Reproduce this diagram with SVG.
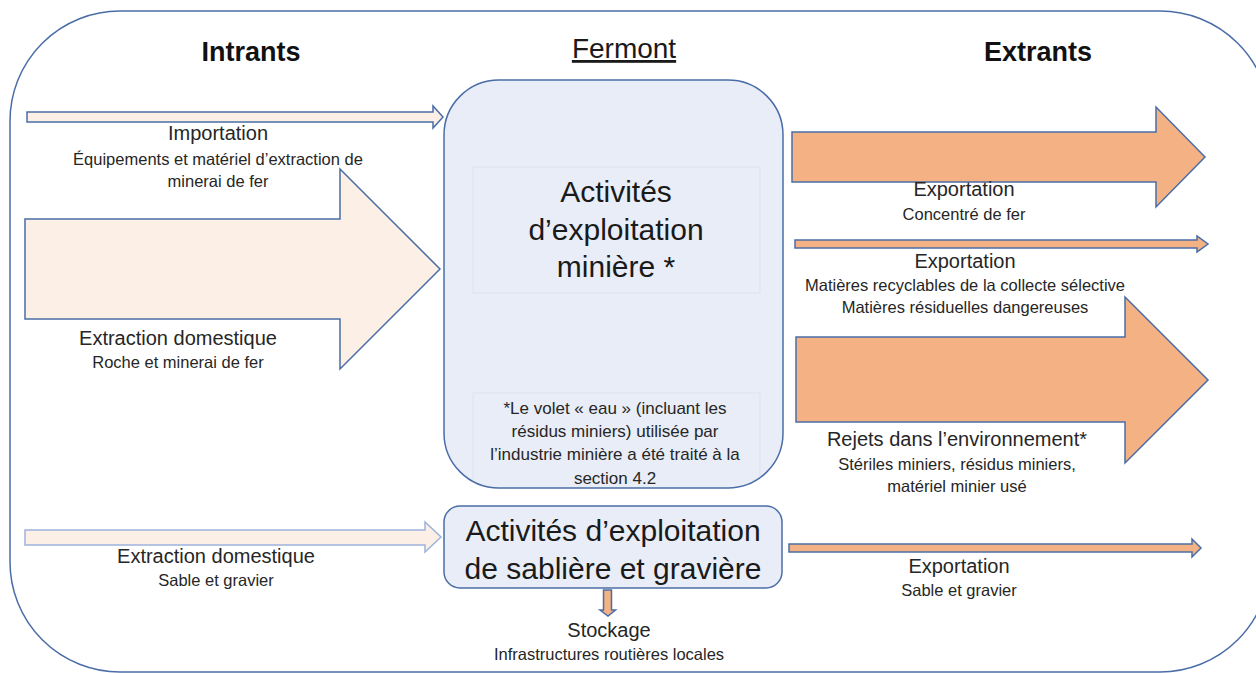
<svg xmlns="http://www.w3.org/2000/svg" width="1256" height="673" viewBox="0 0 1256 673">
<style>
text{font-family:"Liberation Sans",Arial,sans-serif;fill:#262626;text-anchor:middle}
.hd{font-size:27px;font-weight:bold;fill:#111}
.t{font-size:20px}
.s{font-size:16.5px}
.fn{font-size:17px}
.big{font-size:30px;fill:#1a1a1a}
.in{fill:#FCEFE6;stroke:#4A6DA7;stroke-width:1.5}
.in2{fill:#FCEFE6;stroke:#9DB3DB;stroke-width:1.5}
.out{fill:#F4B183;stroke:#4A6DA7;stroke-width:1.5}
.node{fill:#E8EDF7;stroke:#4A6DA7;stroke-width:1.5}
.box{fill:none;stroke:#DDE3EE;stroke-width:1}
</style>
<defs>
<clipPath id="nodeclip"><rect x="445" y="81" width="337" height="406" rx="54"/></clipPath>
</defs>
<rect id="frame" x="10" y="11" width="1260" height="661" rx="110" ry="110" fill="#fff" stroke="#4A6DA7" stroke-width="1.5"/>
<g id="headers">
<text class="hd" x="251" y="61">Intrants</text>
<text x="624" y="58" style="font-size:28px;fill:#1a1a1a" text-decoration="underline">Fermont</text>
<text class="hd" x="1038" y="61">Extrants</text>
</g>
<g id="connectors">
<path class="in" d="M27,112H433V106L443,117L433,128V122H27Z"/>
<path class="in" d="M25,219H340V169L440,269L340,369V319H25Z"/>
<path class="in2" d="M25,530H425V522L441,537L425,552V545H25Z"/>
<path class="out" d="M792,132H1156V107L1205,157L1156,207V182H792Z"/>
<path class="out" d="M795,240H1197V236L1208,244L1197,252V248H795Z"/>
<path class="out" d="M796,337H1125V297L1208,380L1125,463V422H796Z"/>
<path class="out" d="M789,544H1192V539L1201,548L1192,557V552H789Z"/>
<path class="out" d="M603.5,590V610H600L608,616L615.5,610H611.5V590Z"/>
</g>
<g id="mining">
<rect class="node" x="444" y="80" width="339" height="408" rx="55"/>
<g clip-path="url(#nodeclip)">
<rect class="box" x="473" y="167" width="287" height="126"/>
<rect class="box" x="473" y="393" width="287" height="95"/>
</g>
<text class="big" x="616" y="202">Activités</text>
<text class="big" x="616" y="240">d’exploitation</text>
<text class="big" x="616" y="277">minière *</text>
<text class="fn" x="615" y="414">*Le volet « eau » (incluant les</text>
<text class="fn" x="615" y="437">résidus miniers) utilisée par</text>
<text class="fn" x="615" y="460">l’industrie minière a été traité à la</text>
<text class="fn" x="615" y="484">section 4.2</text>
</g>
<g id="sand">
<rect class="node" x="444" y="506" width="338" height="82" rx="16"/>
<text class="big" x="613" y="541">Activités d’exploitation</text>
<text class="big" x="613" y="579">de sablière et gravière</text>
</g>
<g id="importation">
<text class="t" x="218" y="140">Importation</text>
<text class="s" x="218" y="165">Équipements et matériel d’extraction de</text>
<text class="s" x="218" y="187">minerai de fer</text>
</g>
<g id="extraction-fer">
<text class="t" x="178" y="345">Extraction domestique</text>
<text class="s" x="178" y="368">Roche et minerai de fer</text>
</g>
<g id="extraction-sable">
<text class="t" x="216" y="563">Extraction domestique</text>
<text class="s" x="216" y="586">Sable et gravier</text>
</g>
<g id="export-fer">
<text class="t" x="964" y="196">Exportation</text>
<text class="s" x="964" y="220">Concentré de fer</text>
</g>
<g id="export-matieres">
<text class="t" x="965" y="268">Exportation</text>
<text class="s" x="965" y="291">Matières recyclables de la collecte sélective</text>
<text class="s" x="965" y="313">Matières résiduelles dangereuses</text>
</g>
<g id="rejets">
<text class="t" x="957" y="446">Rejets dans l’environnement*</text>
<text class="s" x="957" y="470">Stériles miniers, résidus miniers,</text>
<text class="s" x="957" y="492">matériel minier usé</text>
</g>
<g id="export-sable">
<text class="t" x="959" y="573">Exportation</text>
<text class="s" x="959" y="596">Sable et gravier</text>
</g>
<g id="stockage">
<text class="t" x="609" y="637">Stockage</text>
<text class="s" x="609" y="660">Infrastructures routières locales</text>
</g>
</svg>
